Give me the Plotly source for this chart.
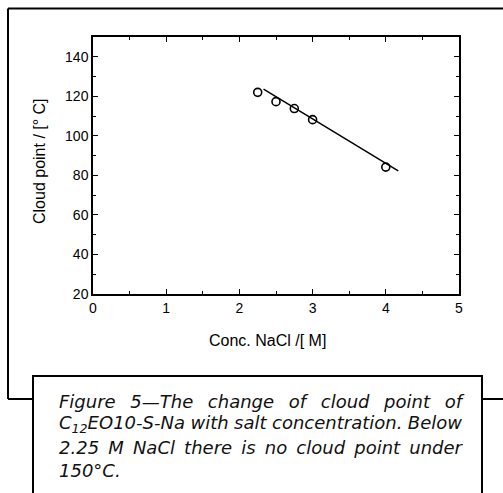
import plotly.graph_objects as go

# Cloud point of C12EO10-S-Na versus NaCl concentration
nacl_conc = [2.25, 2.5, 2.75, 3.0, 4.0]          # M
cloud_point = [122.0, 117.3, 113.8, 108.2, 84.2]  # deg C

# Straight-line fit drawn through the data
fit_conc = [2.33, 4.17]
fit_cloud = [123.6, 82.3]

x_ticks = [0, 1, 2, 3, 4, 5]
y_ticks = [20, 40, 60, 80, 100, 120, 140]

caption_lines = [
    "Figure 5\u2014The change of cloud point of",
    "C<sub>12</sub>EO10-S-Na with salt concentration. Below",
    "2.25 M NaCl there is no cloud point under",
    "150\u00b0C.",
]

W, H = 503, 493
L, R, T, B = 93, 459, 37, 294  # plot area edges in pixels
CAP_LEFT, CAP_WIDTH = 57, 403  # caption text block


def px(x):
    return (x - L) / (R - L)


def py(y):
    return (B - y) / (B - T)


fig = go.Figure()
fig.add_trace(go.Scatter(
    x=fit_conc, y=fit_cloud, mode="lines",
    line=dict(color="black", width=1.5), hoverinfo="skip",
))
fig.add_trace(go.Scatter(
    x=nacl_conc, y=cloud_point, mode="markers",
    marker=dict(symbol="circle-open", size=8, color="black",
                line=dict(width=1.6, color="black")),
))

axis_common = dict(
    showline=True, linecolor="black", linewidth=1.5, mirror="ticks",
    ticks="inside", ticklen=5, tickwidth=1.2, tickcolor="black",
    showgrid=False, zeroline=False,
    tickfont=dict(family="Liberation Sans, Arial", size=14, color="black"),
)
fig.update_xaxes(range=[0, 5], tickvals=x_ticks,
                 minor=dict(ticks="inside", dtick=0.5, ticklen=3, tickcolor="black"),
                 **axis_common)
fig.update_yaxes(range=[20, 150], tickvals=y_ticks,
                 minor=dict(ticks="inside", dtick=10, ticklen=3, tickcolor="black"),
                 **axis_common)

ann = []
ann.append(dict(text="Conc. NaCl /[ M]", x=px(267), y=py(340), xref="paper", yref="paper",
                showarrow=False, xanchor="center", yanchor="middle",
                font=dict(family="Liberation Sans, Arial", size=16, color="black")))
ann.append(dict(text="Cloud point / [\u00b0 C]", x=px(39), y=py(161), xref="paper", yref="paper",
                showarrow=False, xanchor="center", yanchor="middle", textangle=-90,
                font=dict(family="Liberation Sans, Arial", size=16, color="black")))
centers = [401, 424, 447, 470]
for line, yc in zip(caption_lines, centers):
    ann.append(dict(text=line, x=px(CAP_LEFT), y=py(yc), xref="paper", yref="paper",
                    showarrow=False, xanchor="left", yanchor="middle", align="left",
                    font=dict(family="DejaVu Sans", size=18, color="#111", style="italic")))

lw = 2
shapes = [
    # outer frame: top, left, bottom stubs
    dict(type="line", x0=px(8), y0=py(8.5), x1=px(505), y1=py(8.5)),
    dict(type="line", x0=px(8), y0=py(8.5), x1=px(8), y1=py(399)),
    dict(type="line", x0=px(8), y0=py(399), x1=px(33), y1=py(399)),
    dict(type="line", x0=px(482), y0=py(399), x1=px(505), y1=py(399)),
    # caption box
    dict(type="rect", x0=px(33), y0=py(376), x1=px(482), y1=py(510)),
]
for s in shapes:
    s.update(xref="paper", yref="paper", line=dict(color="black", width=lw))

fig.update_layout(
    width=W, height=H, showlegend=False,
    margin=dict(l=L, r=W - R, t=T, b=H - B),
    paper_bgcolor="white", plot_bgcolor="white",
    annotations=ann, shapes=shapes,
)

# Justify the first three caption lines by widening the word gaps
justify_js = """
var gd = document.getElementById('{plot_id}');
function justifyCaption() {
  [2, 3, 4].forEach(function (i) {
    var g = gd.querySelector('g.annotation[data-index="' + i + '"]');
    if (!g) return;
    var t = g.querySelector('text');
    t.style.wordSpacing = '0px';
    var w = t.getComputedTextLength();
    var n = (t.textContent.match(/ /g) || []).length;
    if (n > 0) t.style.wordSpacing = ((%d - w) / n) + 'px';
  });
}
justifyCaption();
gd.on('plotly_afterplot', justifyCaption);
""" % CAP_WIDTH

fig.write_html("out.html", post_script=justify_js)
